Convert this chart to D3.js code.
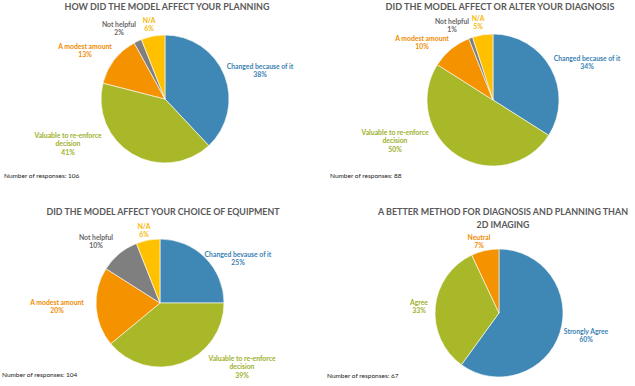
<!DOCTYPE html>
<html>
<head>
<meta charset="utf-8">
<script src="https://cdn.jsdelivr.net/npm/d3@7"></script>
<style>
  body { margin: 0; background: #fff; }
  text { font-family: Lato, "Open Sans", sans-serif; }
</style>
</head>
<body>
<svg id="chart"></svg>
<script>
// survey answers, in clockwise order from 12 o'clock
const answers = ['Changed because of it', 'Valuable to re-enforce decision', 'A modest amount', 'Not helpful', 'N/A'];
const answersEquip = ['Changed bevause of it', 'Valuable to re-enforce decision', 'A modest amount', 'Not helpful', 'N/A'];
const planningValues = [38, 41, 13, 2, 6];
const diagnosisValues = [34, 50, 10, 1, 5];
const equipmentValues = [25, 39, 20, 10, 6];
const agreeLabels = ['Strongly Agree', 'Agree', 'Neutral'];
const agreeValues = [60, 33, 7];
const responses = [106, 88, 104, 67];

const width = 635, height = 386;

const svg = d3.select('#chart')
.attr('width', width)
.attr('height', height);

const sliceColor = {
  'Changed because of it': '#3f87b4', 'Changed bevause of it': '#3f87b4',
  'Valuable to re-enforce decision': '#a8b829',
  'A modest amount': '#f59200',
  'Not helpful': '#7f7f7f',
  'N/A': '#ffc000',
  'Strongly Agree': '#3f87b4', 'Agree': '#a8b829', 'Neutral': '#f59200'
};
const labelColor = {
  'Changed because of it': '#3a82b2', 'Changed bevause of it': '#3a82b2',
  'Valuable to re-enforce decision': '#9db02a',
  'A modest amount': '#ef8c00',
  'Not helpful': '#666',
  'N/A': '#f6b800',
  'Strongly Agree': '#3a82b2', 'Agree': '#9db02a', 'Neutral': '#ef8c00'
};

// layout of each panel: pie centre, radius, title, label anchor points
const panels = [
  {
    title: ['HOW DID THE MODEL AFFECT YOUR PLANNING'], titleX: 167, titleY: 10, titleW: 205,
    cx: 165, cy: 99, r: 64, names: answers, values: planningValues,
    labels: [[260, 67], [68, 136], [85, 47], [119, 25], [149, 21]],
    noteX: 4, noteY: 178, n: responses[0]
  },
  {
    title: ['DID THE MODEL AFFECT OR ALTER YOUR DIAGNOSIS'], titleX: 500, titleY: 10, titleW: 229,
    cx: 493, cy: 100, r: 66, names: answers, values: diagnosisValues,
    labels: [[587, 59], [395, 133], [422, 39], [452, 22], [478, 19]],
    noteX: 330, noteY: 178, n: responses[1]
  },
  {
    title: ['DID THE MODEL AFFECT YOUR CHOICE OF EQUIPMENT'], titleX: 163, titleY: 215, titleW: 233,
    cx: 160, cy: 303, r: 64, names: answersEquip, values: equipmentValues,
    labels: [[238, 255], [242, 359], [57, 303], [96, 238], [144, 227]],
    noteX: 2, noteY: 377, n: responses[2]
  },
  {
    title: ['A BETTER METHOD FOR DIAGNOSIS AND PLANNING THAN', '2D IMAGING'], titleX: 503, titleY: 215, titleW: 250,
    cx: 499, cy: 313, r: 64, names: agreeLabels, values: agreeValues,
    labels: [[586, 332], [419, 303], [479, 238]],
    noteX: 327, noteY: 378, n: responses[3]
  }
];

const pie = d3.pie().sort(null);

panels.forEach(p => {
  const g = svg.append('g');

  p.title.forEach((t, i) => {
    const txt = g.append('text')
    .attr('x', p.titleX)
    .attr('y', p.titleY + i * 12.5)
    .attr('text-anchor', 'middle')
    .style('font-size', '8.8px')
    .style('font-weight', 'bold')
    .style('fill', '#595959')
    .text(t);
    if (i === 0) txt.attr('textLength', p.titleW).attr('lengthAdjust', 'spacingAndGlyphs');
  });

  const arc = d3.arc().innerRadius(0).outerRadius(p.r);

  g.append('g')
  .attr('transform', `translate(${p.cx}, ${p.cy})`)
  .selectAll('path')
  .data(pie(p.values))
  .enter()
  .append('path')
  .attr('d', arc)
  .attr('fill', (d, i) => sliceColor[p.names[i]])
  .attr('stroke', '#fff')
  .attr('stroke-width', 0.6);

  p.names.forEach((name, i) => {
    let lines = name === 'Valuable to re-enforce decision'
      ? ['Valuable to re-enforce', 'decision'] : [name];
    lines = lines.concat([p.values[i] + '%']);
    const t = g.append('text')
    .attr('text-anchor', 'middle')
    .style('font-size', '6.8px')
    .style('font-weight', 'bold')
    .style('fill', labelColor[name]);
    lines.forEach((l, j) => {
      t.append('tspan')
      .attr('x', p.labels[i][0])
      .attr('y', p.labels[i][1] + 2 + j * 8.3)
      .text(l);
    });
  });

  g.append('text')
  .attr('x', p.noteX)
  .attr('y', p.noteY)
  .style('font-size', '6.5px')
  .style('fill', '#222')
  .text('Number of responses: ' + p.n);
});
</script>
</body>
</html>
